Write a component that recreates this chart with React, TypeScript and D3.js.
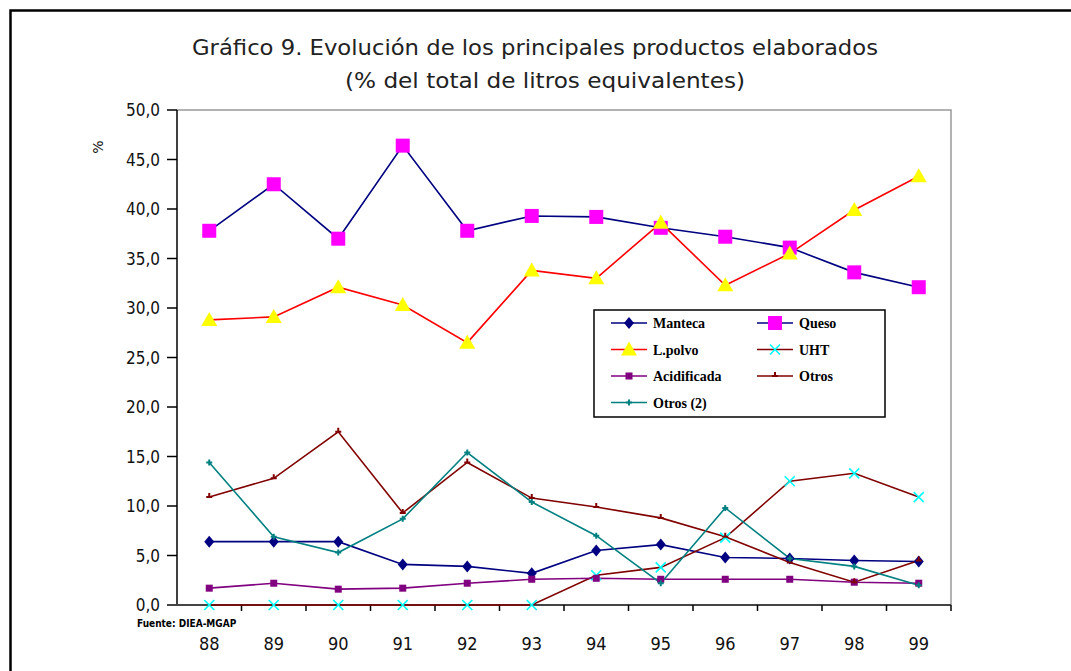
import React from "react";
import * as d3 from "d3";

const years = ["88", "89", "90", "91", "92", "93", "94", "95", "96", "97", "98", "99"];
const yTicks = [0, 5, 10, 15, 20, 25, 30, 35, 40, 45, 50];

const manteca = [6.4, 6.4, 6.4, 4.1, 3.9, 3.2, 5.5, 6.1, 4.8, 4.7, 4.5, 4.4];
const queso = [37.8, 42.5, 37.0, 46.4, 37.8, 39.3, 39.2, 38.1, 37.2, 36.1, 33.6, 32.1];
const lpolvo = [28.8, 29.1, 32.1, 30.3, 26.5, 33.8, 33.0, 38.6, 32.3, 35.5, 39.9, 43.3];
const uht = [0, 0, 0, 0, 0, 0, 3.0, 3.8, 6.8, 12.5, 13.3, 10.9];
const acidificada = [1.7, 2.2, 1.6, 1.7, 2.2, 2.6, 2.7, 2.6, 2.6, 2.6, 2.3, 2.2];
const otros = [10.9, 12.8, 17.5, 9.3, 14.4, 10.8, 9.9, 8.8, 6.9, 4.3, 2.3, 4.5];
const otros2 = [14.4, 6.9, 5.3, 8.7, 15.4, 10.4, 7.0, 2.2, 9.8, 4.7, 3.9, 2.0];

type Marker = "diamond" | "square" | "triangle" | "x" | "smallsquare" | "tick" | "plus";
const series: { name: string; values: number[]; line: string; fill: string; marker: Marker }[] = [
  { name: "Manteca", values: manteca, line: "#000080", fill: "#000080", marker: "diamond" },
  { name: "Queso", values: queso, line: "#000080", fill: "#FF00FF", marker: "square" },
  { name: "L.polvo", values: lpolvo, line: "#FF0000", fill: "#FFFF00", marker: "triangle" },
  { name: "UHT", values: uht, line: "#800000", fill: "#00FFFF", marker: "x" },
  { name: "Acidificada", values: acidificada, line: "#800080", fill: "#800080", marker: "smallsquare" },
  { name: "Otros", values: otros, line: "#800000", fill: "#800000", marker: "tick" },
  { name: "Otros  (2)", values: otros2, line: "#008080", fill: "#008080", marker: "plus" },
];

const L = 177, R = 951, T = 110, B = 605;

function MarkerShape({ m, x, y, c }: { m: Marker; x: number; y: number; c: string }) {
  switch (m) {
    case "diamond":
      return <path d={`M${x},${y - 6}L${x + 5},${y}L${x},${y + 6}L${x - 5},${y}Z`} fill={c} />;
    case "square":
      return <rect x={x - 7} y={y - 7} width={14} height={14} fill={c} />;
    case "triangle":
      return <path d={`M${x},${y - 8}L${x + 8},${y + 6}L${x - 8},${y + 6}Z`} fill={c} />;
    case "x":
      return (
        <path d={`M${x - 5},${y - 5}L${x + 5},${y + 5}M${x + 5},${y - 5}L${x - 5},${y + 5}`} stroke={c} strokeWidth={1.6} />
      );
    case "smallsquare":
      return <rect x={x - 3.5} y={y - 3.5} width={7} height={7} fill={c} />;
    case "tick":
      return <path d={`M${x},${y - 4}L${x},${y + 1}M${x - 3},${y}L${x + 3},${y}`} stroke={c} strokeWidth={2} />;
    case "plus":
      return <path d={`M${x},${y - 3}L${x},${y + 3}M${x - 3},${y}L${x + 3},${y}`} stroke={c} strokeWidth={2} />;
  }
}

export default function App() {
  const x = d3.scaleBand<string>().domain(years).range([L, R]);
  const y = d3.scaleLinear().domain([0, 50]).range([B, T]);
  const cx = (yr: string) => (x(yr) as number) + x.bandwidth() / 2;
  const line = d3
    .line<number>()
    .x((_, i) => cx(years[i]))
    .y((v) => y(v));

  const legendItems = series.map((s, i) => ({ s, col: i % 2, row: Math.floor(i / 2) }));

  return (
    <svg width={1071} height={671} style={{ position: "absolute", left: 0, top: 0, background: "#fff" }}>
      <rect x={0} y={0} width={1071} height={671} fill="#fff" />
      {/* outer frame */}
      <path d="M10.5,671 L10.5,10.5 L1071,10.5" fill="none" stroke="#000" strokeWidth={2.5} />
      {/* title */}
      <text x={535} y={55} textAnchor="middle" fontFamily="DejaVu Sans Condensed, DejaVu Sans" fontSize={22} textLength={686} lengthAdjust="spacingAndGlyphs" fill="#222">
        Gráfico 9. Evolución de los principales productos elaborados
      </text>
      <text x={545} y={88} textAnchor="middle" fontFamily="DejaVu Sans Condensed, DejaVu Sans" fontSize={22} textLength={400} lengthAdjust="spacingAndGlyphs" fill="#222">
        (% del total de litros equivalentes)
      </text>
      {/* plot box top/right */}
      <path d={`M${L},${T}L${R},${T}L${R},${B}`} fill="none" stroke="#999" strokeWidth={1.5} />
      {/* y axis */}
      <line x1={L} y1={T} x2={L} y2={B + 1} stroke="#000" strokeWidth={1.5} />
      {yTicks.map((t) => (
        <g key={t}>
          <line x1={L - 10} x2={L} y1={y(t)} y2={y(t)} stroke="#000" strokeWidth={1.5} />
          <text x={160} y={y(t) + 6} textAnchor="end" fontFamily="DejaVu Sans Condensed, DejaVu Sans" fontSize={17} fill="#111">
            {t.toFixed(1).replace(".", ",")}
          </text>
        </g>
      ))}
      <text transform={`translate(103,147) rotate(-90)`} textAnchor="middle" fontFamily="DejaVu Sans" fontSize={14} fill="#111">
        %
      </text>
      {/* x axis */}
      <line x1={L - 10} x2={R} y1={B} y2={B} stroke="#444" strokeWidth={2} />
      {years.map((yr) => (
        <line key={"t" + yr} x1={(x(yr) as number) + x.bandwidth()} x2={(x(yr) as number) + x.bandwidth()} y1={B} y2={B + 6} stroke="#000" strokeWidth={1.5} />
      ))}
      {years.map((yr) => (
        <text key={yr} x={cx(yr)} y={650} textAnchor="middle" fontFamily="DejaVu Sans Condensed, DejaVu Sans" fontSize={18} fill="#111">
          {yr}
        </text>
      ))}
      {/* lines */}
      {series.map((s) => (
        <path key={s.name + "l"} d={line(s.values) as string} fill="none" stroke={s.line} strokeWidth={1.6} />
      ))}
      {series.map((s) => (
        <g key={s.name + "m"}>
          {s.values.map((v, i) => (
            <MarkerShape key={i} m={s.marker} x={cx(years[i])} y={y(v)} c={s.fill} />
          ))}
        </g>
      ))}
      {/* source */}
      <text x={137} y={627} fontFamily="DejaVu Sans Condensed, DejaVu Sans" fontSize={10} fontWeight="bold" fill="#000">
        Fuente: DIEA-MGAP
      </text>
      {/* legend */}
      <rect x={594} y={310} width={291} height={107} fill="#fff" stroke="#000" strokeWidth={1.5} />
      {legendItems.map(({ s, col, row }) => {
        const lx = col === 0 ? 611 : 757;
        const ly = 323 + row * 26.5;
        return (
          <g key={s.name + "lg"}>
            <line x1={lx} x2={lx + 36} y1={ly} y2={ly} stroke={s.line} strokeWidth={1.6} />
            <MarkerShape m={s.marker} x={lx + 18} y={ly} c={s.fill} />
            <text x={lx + 42} y={ly + 5} fontFamily="Liberation Serif" fontWeight="bold" fontSize={14} fill="#000">
              {s.name}
            </text>
          </g>
        );
      })}
    </svg>
  );
}
